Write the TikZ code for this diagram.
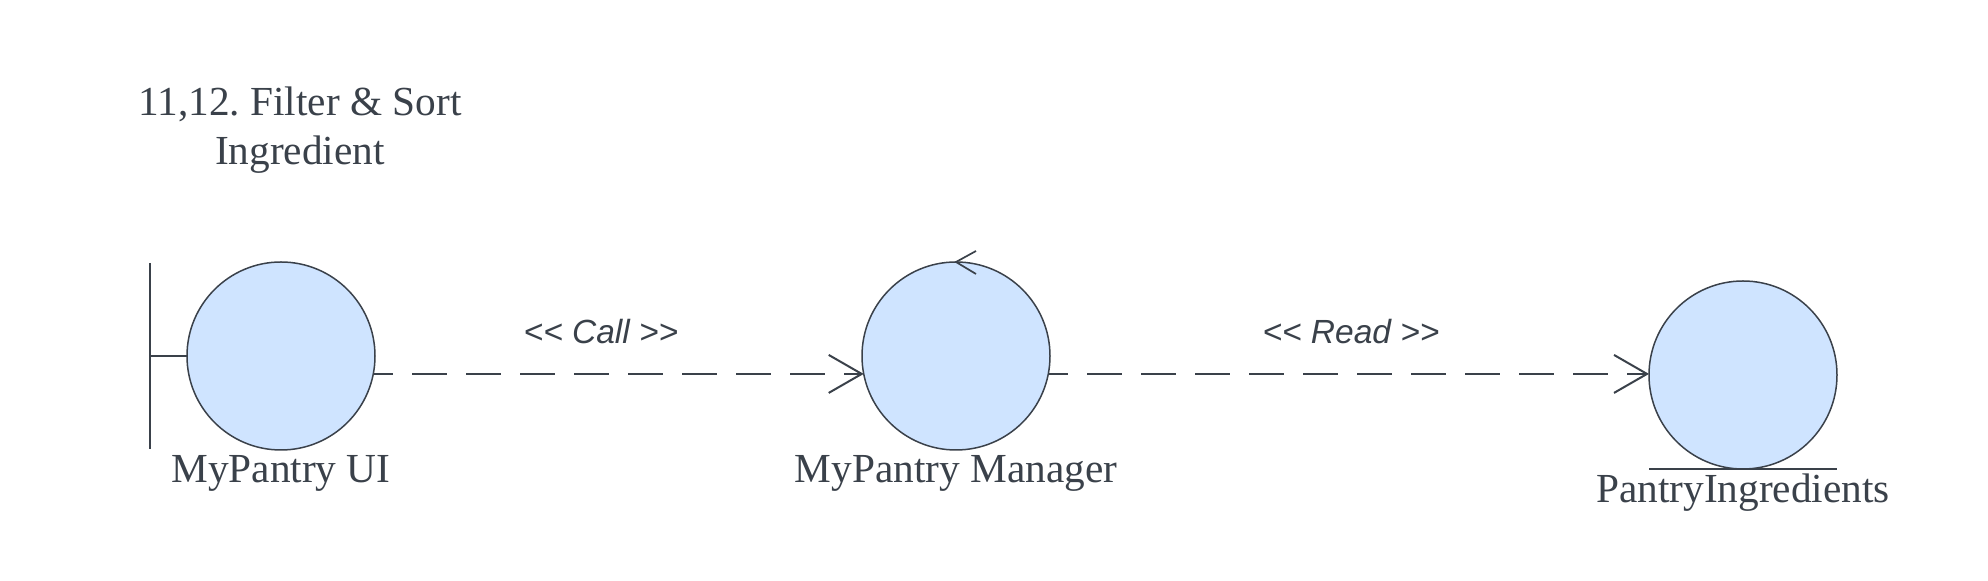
\documentclass[tikz,border=0pt]{standalone}
\usepackage{fontspec}
\setmainfont{Liberation Serif}
\newfontfamily\labelsans{Liberation Sans}
\usetikzlibrary{arrows.meta,calc}
\definecolor{ink}{RGB}{58,65,74}
\definecolor{bubble}{RGB}{207,228,255}
\begin{document}
\frenchspacing
\begin{tikzpicture}[x=0.5pt,y=-0.5pt,
  obj/.style={circle, draw=ink, fill=bubble, line width=0.75pt, minimum size=94pt, inner sep=0pt, outer sep=0pt},
  serif/.style={text=ink, font=\fontsize{20.65}{24.5}\selectfont, inner sep=0pt, anchor=base},
  stereo/.style={text=ink, font=\labelsans\itshape\fontsize{16.75}{20}\selectfont, inner sep=0pt, anchor=base},
  conn/.style={draw=ink, line width=1pt, dash pattern=on 17.5pt off 9.5pt, dash phase=7.5pt,
    -{Straight Barb[length=16.5pt,width=19pt,line width=1pt]}},
  deco/.style={draw=ink, line width=0.85pt}]
\useasboundingbox (0,0) rectangle (1988,581);
% title
\node[serif, align=center] (title) at (300,165) {11,12. Filter \& Sort\\Ingredient};
% objects
\node[obj] (ui) at (281,356) {};
\node[obj] (mgr) at (956,356) {};
\node[obj] (ent) at (1743,375) {};
% boundary decoration
\coordinate (bx) at ($(ui.west)+(-37,0)$);
\draw[deco] ($(bx)+(0,-93)$) -- ($(bx)+(0,93)$);
\draw[deco] (bx) -- (ui.west);
% control decoration
\draw[deco] ($(mgr.north)+(20,-11)$) -- (mgr.north) -- ($(mgr.north)+(20,12)$);
% entity decoration
\draw[deco] ($(ent.south)+(-94,0)$) -- ($(ent.south)+(94,0)$);
% connectors
\draw[conn] (ui.-11.66) -- (ui.-11.66 -| mgr.191.66);
\draw[conn] (mgr.-11.66) -- (mgr.-11.66 -| ent.west);
% labels
\node[stereo] (call) at (601,344) {<< Call >>};
\node[stereo] (read) at (1351,344) {<< Read >>};
\node[serif] (uilbl) at (281,483) {MyPantry UI};
\node[serif] (mgrlbl) at (956,483) {MyPantry Manager};
\node[serif] (entlbl) at (1743,503) {PantryIngredients};
\end{tikzpicture}
\end{document}
